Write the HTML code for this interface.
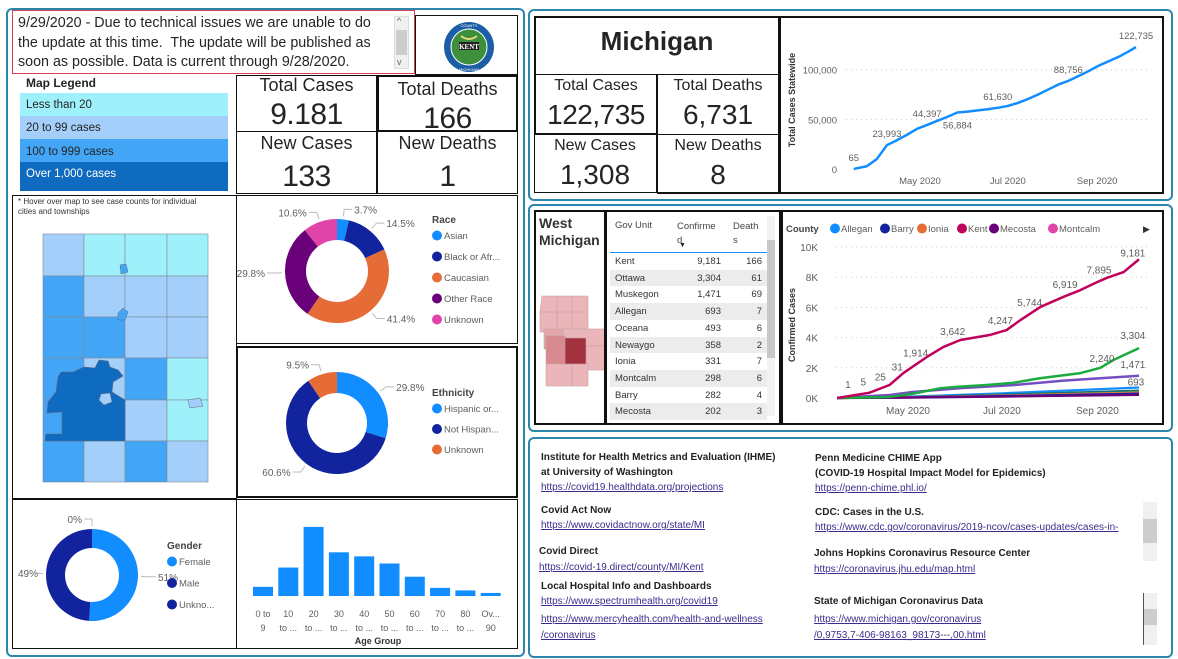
<!DOCTYPE html>
<html><head><meta charset="utf-8">
<style>
*{box-sizing:border-box;margin:0;padding:0}
body{width:1178px;height:659px;overflow:hidden;background:#fff;font-family:"Liberation Sans",sans-serif;color:#252423;position:relative}
.abs{position:absolute}
.panel{position:absolute;border:2px solid #2a86ad;border-radius:6px}
.box{position:absolute;border:1px solid #111}
.t{position:absolute;white-space:nowrap}
.lk{color:#3a2c8c;text-decoration:underline;font-size:10px}
.hd{font-weight:bold;font-size:10px;color:#222}
.num{font-size:30px;letter-spacing:-0.5px}
</style></head><body>
<div class="panel" style="left:6px;top:8px;width:519px;height:649px"></div>
<div class="panel" style="left:528px;top:9px;width:645px;height:192px"></div>
<div class="panel" style="left:528px;top:204px;width:645px;height:228px"></div>
<div class="panel" style="left:528px;top:437px;width:645px;height:221px"></div>

<!-- notice -->
<div class="abs" style="left:12px;top:10px;width:403px;height:64px;border:1px solid #d9414f;overflow:hidden">
<div style="position:absolute;left:5px;top:3px;width:372px;font-size:14.3px;line-height:19.5px;color:#252423">9/29/2020 - Due to technical issues we are unable to do the update at this time.&nbsp; The update will be published as soon as possible. Data is current through 9/28/2020.</div>
<div style="position:absolute;left:381px;top:5px;width:15px;height:53px;background:#f0f0f0;border:1px solid #ddd"><div style="position:absolute;left:1px;top:13px;width:11px;height:25px;background:#cdcdcd"></div><div class="t" style="left:2px;top:-1px;font-size:9px;color:#666">^</div><div class="t" style="left:2px;top:40px;font-size:9px;color:#666">v</div></div>
</div>
<div class="box" style="left:415px;top:15px;width:103px;height:60px"></div>
<svg class="abs" style="left:440px;top:18px" width="60" height="58">
<circle cx="29" cy="29" r="25" fill="#1b5ea6"/><circle cx="29" cy="29" r="18" fill="#3e8f3b" stroke="#fff" stroke-width="1"/>
<rect x="19" y="24" width="20" height="8" fill="#222"/><text x="29" y="31" font-size="7" font-weight="bold" fill="#fff" text-anchor="middle" font-family="Liberation Serif">KENT</text>
<path d="M21 18 Q29 24 37 18" stroke="#e9d97a" stroke-width="2" fill="none"/>
<text x="29" y="9" font-size="4" fill="#fff" text-anchor="middle">COUNTY</text><text x="29" y="53" font-size="4" fill="#fff" text-anchor="middle">MICHIGAN</text>
</svg>

<!-- map legend -->
<div class="t" style="left:26px;top:76px;font-size:12px;font-weight:bold">Map Legend</div>
<div class="abs" style="left:20px;top:93px;width:208px;height:23px;background:#9ef1fb"><span class="t" style="left:6px;top:6px;font-size:11.5px">Less than 20</span></div>
<div class="abs" style="left:20px;top:116px;width:208px;height:23px;background:#a3cffa"><span class="t" style="left:6px;top:6px;font-size:11.5px">20 to 99 cases</span></div>
<div class="abs" style="left:20px;top:139px;width:208px;height:23px;background:#42a5f5"><span class="t" style="left:6px;top:7px;font-size:11.5px">100 to 999 cases</span></div>
<div class="abs" style="left:20px;top:162px;width:208px;height:29px;background:#0f6bbf"><span class="t" style="left:6px;top:6px;font-size:11.5px;color:#fff">Over 1,000 cases</span></div>

<!-- kent stats -->
<div class="box" style="left:236px;top:75px;width:141px;height:57px"><div class="t" style="width:139px;text-align:center;top:-1px;font-size:18px">Total Cases</div><div class="t num" style="width:139px;text-align:center;top:22px">9.181</div></div>
<div class="box" style="left:377px;top:75px;width:141px;height:57px;border-width:2px"><div class="t" style="width:137px;text-align:center;top:2px;font-size:18px">Total Deaths</div><div class="t num" style="width:137px;text-align:center;top:25px">166</div></div>
<div class="box" style="left:236px;top:131px;width:141px;height:63px"><div class="t" style="width:139px;text-align:center;top:1px;font-size:18px">New Cases</div><div class="t num" style="width:139px;text-align:center;top:28px">133</div></div>
<div class="box" style="left:377px;top:131px;width:141px;height:63px"><div class="t" style="width:139px;text-align:center;top:1px;font-size:18px">New Deaths</div><div class="t num" style="width:139px;text-align:center;top:28px">1</div></div>

<!-- map -->
<div class="box" style="left:12px;top:195px;width:225px;height:304px"></div>
<div class="t" style="left:18px;top:197px;font-size:8px;line-height:10px;color:#333">* Hover over map to see case counts for individual<br>cities and townships</div>
<svg class="abs" id="mapsvg" style="left:0;top:0" width="240" height="500"></svg>

<!-- race -->
<div class="box" style="left:236px;top:195px;width:282px;height:149px"></div>
<svg class="abs" id="race" style="left:236px;top:195px" width="282" height="149"></svg>
<div class="box" style="left:236px;top:346px;width:282px;height:152px;border-width:2px"></div>
<svg class="abs" id="eth" style="left:236px;top:346px" width="282" height="152"></svg>
<div class="box" style="left:12px;top:499px;width:225px;height:150px"></div>
<svg class="abs" id="gen" style="left:12px;top:499px" width="225" height="150"></svg>
<div class="box" style="left:236px;top:499px;width:282px;height:150px"></div>
<svg class="abs" id="age" style="left:236px;top:499px" width="282" height="150"></svg>

<!-- Michigan -->
<div class="box" style="left:534px;top:16px;width:246px;height:59px;border-width:2px 2px 1px 2px"><div class="t" style="width:242px;text-align:center;top:8px;font-size:26px;font-weight:bold">Michigan</div></div>
<div class="box" style="left:534px;top:74px;width:124px;height:61px;border-width:1px 2px 2px 2px"><div class="t" style="width:120px;text-align:center;top:2px;font-size:16px">Total Cases</div><div class="t" style="width:120px;text-align:center;top:24px;font-size:28px;letter-spacing:-0.5px">122,735</div></div>
<div class="box" style="left:657px;top:74px;width:123px;height:61px;border-width:1px 2px 1px 1px"><div class="t" style="width:120px;text-align:center;top:2px;font-size:16px">Total Deaths</div><div class="t" style="width:120px;text-align:center;top:24px;font-size:28px">6,731</div></div>
<div class="box" style="left:534px;top:134px;width:124px;height:59px;border-width:1px 2px 1px 1px"><div class="t" style="width:120px;text-align:center;top:2px;font-size:16px">New Cases</div><div class="t" style="width:120px;text-align:center;top:24px;font-size:28px">1,308</div></div>
<div class="box" style="left:657px;top:134px;width:123px;height:60px;border-width:1px 2px 2px 1px"><div class="t" style="width:120px;text-align:center;top:2px;font-size:16px">New Deaths</div><div class="t" style="width:120px;text-align:center;top:24px;font-size:28px">8</div></div>
<div class="box" style="left:779px;top:16px;width:385px;height:178px;border-width:2px"></div>
<svg class="abs" id="mi" style="left:0;top:0" width="1178" height="200"></svg>

<!-- West Michigan -->
<div class="box" style="left:534px;top:210px;width:72px;height:215px;border-width:2px"><div class="t" style="left:3px;top:3px;font-size:14px;line-height:17px;font-weight:bold;color:#333">West<br>Michigan</div></div>
<svg class="abs" style="left:536px;top:292px" width="68" height="96">
<g stroke="#c9a0a4" stroke-width="0.6">
<path d="M6 4 L52 4 L52 37 L6 37 L4 20 Z" fill="#eab6ba"/>
<rect x="4" y="20" width="17" height="20" fill="#eab6ba"/>
<rect x="8" y="37" width="20" height="20" fill="#e0a6aa"/>
<rect x="10" y="44" width="20" height="28" fill="#d88a90"/>
<rect x="29" y="37" width="40" height="17" fill="#eab6ba"/>
<rect x="50" y="54" width="19" height="24" fill="#eab6ba"/>
<rect x="10" y="72" width="26" height="22" fill="#eab6ba"/>
<rect x="36" y="72" width="16" height="22" fill="#eab6ba"/>
<rect x="29" y="46" width="21" height="26" fill="#a3323f"/>
<line x1="21" y1="4" x2="21" y2="37"/><line x1="36" y1="4" x2="36" y2="37"/><line x1="6" y1="20" x2="52" y2="20"/>
</g></svg>
<div class="box" style="left:605px;top:210px;width:176px;height:215px;border-width:2px"></div>
<div id="table" class="abs" style="left:610px;top:212px;width:158px;height:210px"></div>
<div class="abs" style="left:767px;top:216px;width:8px;height:200px;background:#f2f2f2"><div style="position:absolute;left:0;top:24px;width:8px;height:118px;background:#c8c8c8"></div></div>
<div class="box" style="left:781px;top:210px;width:383px;height:215px;border-width:2px"></div>
<svg class="abs" id="cty" style="left:0;top:0" width="1178" height="432"></svg>

<!-- Resources -->
<div class="t hd" style="left:541px;top:450px;line-height:15px">Institute for Health Metrics and Evaluation (IHME)<br>at University of Washington</div>
<div class="t lk" style="left:541px;top:482px">https://covid19.healthdata.org/projections</div>
<div class="t hd" style="left:541px;top:505px">Covid Act Now</div>
<div class="t lk" style="left:541px;top:520px">https://www.covidactnow.org/state/MI</div>
<div class="t hd" style="left:539px;top:546px">Covid Direct</div>
<div class="t lk" style="left:539px;top:562px">https://covid-19.direct/county/MI/Kent</div>
<div class="t hd" style="left:541px;top:581px">Local Hospital Info and Dashboards</div>
<div class="t lk" style="left:541px;top:596px">https://www.spectrumhealth.org/covid19</div>
<div class="t lk" style="left:541px;top:612px;line-height:16px">https://www.mercyhealth.com/health-and-wellness<br>/coronavirus</div>
<div class="t hd" style="left:815px;top:451px;line-height:15px">Penn Medicine CHIME App<br>(COVID-19 Hospital Impact Model for Epidemics)</div>
<div class="t lk" style="left:815px;top:483px">https://penn-chime.phl.io/</div>
<div class="t hd" style="left:815px;top:507px">CDC: Cases in the U.S.</div>
<div class="t lk" style="left:815px;top:522px">https://www.cdc.gov/coronavirus/2019-ncov/cases-updates/cases-in-</div>
<div class="t hd" style="left:814px;top:548px">Johns Hopkins Coronavirus Resource Center</div>
<div class="t lk" style="left:814px;top:564px">https://coronavirus.jhu.edu/map.html</div>
<div class="t hd" style="left:814px;top:596px">State of Michigan Coronavirus Data</div>
<div class="t lk" style="left:814px;top:612px;line-height:16px">https://www.michigan.gov/coronavirus<br>/0,9753,7-406-98163_98173---,00.html</div>
<div class="abs" style="left:1143px;top:502px;width:14px;height:59px;background:#f0f0f0"><div style="position:absolute;left:0;top:17px;width:14px;height:24px;background:#cdcdcd"></div></div>
<div class="abs" style="left:1143px;top:593px;width:14px;height:52px;background:#f0f0f0;border-left:1px solid #555"><div style="position:absolute;left:0;top:16px;width:13px;height:16px;background:#cdcdcd"></div></div>

<script>
var NS='http://www.w3.org/2000/svg';
function mk(tag,attrs,parent){var e=document.createElementNS(NS,tag);for(var k in attrs)e.setAttribute(k,attrs[k]);parent.appendChild(e);return e;}
function tx(parent,x,y,s,size,fill,anchor,weight){var e=mk('text',{x:x,y:y,'font-size':size,fill:fill||'#605e5c','text-anchor':anchor||'start','font-family':'Liberation Sans, sans-serif','font-weight':weight||'normal'},parent);e.textContent=s;return e;}

/* ---------- map ---------- */
var mapColors=['#a3cffa','#9ef1fb','#9ef1fb','#9ef1fb','#42a5f5','#a3cffa','#a3cffa','#a3cffa','#42a5f5','#42a5f5','#a3cffa','#a3cffa','#42a5f5','#a3cffa','#42a5f5','#9ef1fb','#42a5f5','#0f6bbf','#a3cffa','#9ef1fb','#42a5f5','#a3cffa','#42a5f5','#a3cffa'];
(function(){var s=document.getElementById('mapsvg');var xs=[43,84,125,167,208],ys=[234,276,317,358,400,441,482];
for(var i=0;i<24;i++){var r=Math.floor(i/4),c=i%4;var el=mk('rect',{x:xs[c],y:ys[r],width:xs[c+1]-xs[c],height:ys[r+1]-ys[r],fill:mapColors[i],stroke:'#7d8a99','stroke-width':0.6},s);

}
var p=mk('path',{d:'M99 360 L108 361 L110 367 L118 370 L123 376 L113 382 L112 392 L125 400 L125 441 L45 441 L46 434 L62 434 L62 412 L47 413 L48 402 L56 392 L58 377 L61 372 L73 372 L84 367 L95 368 Z',fill:'#0f6bbf',stroke:'#667','stroke-width':0.6},s);


var h=mk('path',{d:'M101 394 L110 393 L112 402 L104 405 L99 400 Z',fill:'#a3cffa',stroke:'#667','stroke-width':0.5},s);


var h2=mk('path',{d:'M120 265 L126 264 L128 272 L121 274 Z',fill:'#42a5f5',stroke:'#667','stroke-width':0.5},s);


var h3=mk('path',{d:'M118 313 L123 308 L128 312 L125 320 L118 320 Z',fill:'#42a5f5',stroke:'#667','stroke-width':0.5},s);


var h4=mk('path',{d:'M188 400 L200 398 L203 406 L190 408 Z',fill:'#a3cffa',stroke:'#667','stroke-width':0.5},s);


})();

/* ---------- donuts ---------- */
var raceCats=['Asian','Black or Afr...','Caucasian','Other Race','Unknown'];
var raceVals=[3.7,14.5,41.4,29.8,10.6];
var raceColors=['#118dff','#12239e','#e66c37','#6b007b','#e044a7'];
var ethCats=['Hispanic or...','Not Hispan...','Unknown'];
var ethVals=[29.8,60.6,9.5];
var ethColors=['#118dff','#12239e','#e66c37'];
var genCats=['Female','Male','Unkno...'];
var genVals=[51,49,0];
var genColors=['#118dff','#12239e','#12239e'];
function donut(svg,cx,cy,R,r,vals,colors,cats,title,lx,ly,step,fmt,name){
 var tot=vals.reduce(function(a,b){return a+b},0);var a0=0;
 for(var i=0;i<vals.length;i++){var f=vals[i]/tot;var a1=a0+f*2*Math.PI;
  if(f>0){var la=(a1-a0)>Math.PI?1:0;function P(rad,a){return [cx+rad*Math.sin(a),cy-rad*Math.cos(a)];}
  var p1=P(R,a0),p2=P(R,a1),p3=P(r,a1),p4=P(r,a0);
  var d='M'+p1+' A'+R+' '+R+' 0 '+la+' 1 '+p2+' L'+p3+' A'+r+' '+r+' 0 '+la+' 0 '+p4+' Z';
  var seg=mk('path',{d:d,fill:colors[i]},svg);
  
  }
  var am=(a0+a1)/2;var e1=[cx+(R+3)*Math.sin(am),cy-(R+3)*Math.cos(am)],e2=[cx+(R+10)*Math.sin(am),cy-(R+10)*Math.cos(am)];
  var right=Math.sin(am)>=0;var e3=[e2[0]+(right?8:-8),e2[1]];
  if(!right&&e3[0]<28)e3[0]=28;
  mk('polyline',{points:e1+' '+e2+' '+e3,fill:'none',stroke:'#bbb','stroke-width':1},svg);
  var lb=tx(svg,e3[0]+(right?2:-2),e3[1]+4,fmt(vals[i]),10,'#605e5c',right?'start':'end');
  
  
  a0=a1;}
 var tt=tx(svg,lx,ly,title,10,'#444','start','bold');
 
 
 for(var j=0;j<cats.length;j++){var y=ly+16+j*step;mk('circle',{cx:lx+5,cy:y-3.5,r:5,fill:colors[j]},svg);
  var le=tx(svg,lx+12,y,cats[j],9.5,'#605e5c');
  
  }
}
donut(document.getElementById('race'),101,76,52,31,raceVals,raceColors,raceCats,'Race',196,28,21,function(v){return v.toFixed(1)+'%'},'race');
donut(document.getElementById('eth'),101,77,51,30,ethVals,ethColors,ethCats,'Ethnicity',196,50,20.5,function(v){return v.toFixed(1)+'%'},'ethnicity');
donut(document.getElementById('gen'),80,76,46,27,genVals,genColors,genCats,'Gender',155,50,21.5,function(v){return v+'%'},'gender');

/* ---------- age bars ---------- */
var ageCats1=['0 to','10','20','30','40','50','60','70','80','Ov...'];
var ageCats2=['9','to ...','to ...','to ...','to ...','to ...','to ...','to ...','to ...','90'];
var ageVals=[325,1010,2453,1551,1407,1154,685,289,198,108];
(function(){var s=document.getElementById('age');var base=97,maxH=69,maxV=2450;
 function y(v){return base-v/maxV*maxH;}
 for(var i=0;i<ageVals.length;i++){var x=17+i*25.3;
  var b=mk('rect',{x:x,y:y(ageVals[i]),width:20,height:base-y(ageVals[i]),fill:'#118dff'},s);
  
  
  var t1=tx(s,x+10,118,ageCats1[i],9,'#605e5c','middle');
  
  
  var t2=tx(s,x+10,132,ageCats2[i],9,'#605e5c','middle');
  
  }
 var at=tx(s,142,145,'Age Group',9,'#333','middle','bold');
 
 
})();

/* ---------- statewide line ---------- */
var miDays=[-46,-37,-30,-23,-16,-9,-2,5,12,19,26,33,40,47,54,61,68,75,82,89,96,103,110,117,124,131,138,145,150];
var miVals=[65,2800,10000,23993,29000,34500,40500,44397,48500,52500,56884,57800,59000,60200,61630,63500,66500,70500,75000,80000,85000,88756,93500,98500,104000,108500,113000,118500,122735];
var miLabelIdx=[0,3,7,10,14,21,28];
var miLabelBelow=[false,false,false,true,false,false,false];
var miTicks=[0,50000,100000];
var miTickLabels=['0','50,000','100,000'];
var miMonthDays=[0,61,123];
var miMonthLabels=['May 2020','Jul 2020','Sep 2020'];
(function(){var s=document.getElementById('mi');
 function X(d){return 920+d*1.44;} function Y(v){return 169-v*0.000993;}
 for(var i=0;i<miTicks.length;i++){if(i>0)mk('line',{x1:846,x2:1148,y1:Y(miTicks[i]),y2:Y(miTicks[i]),stroke:'#c8c8c8','stroke-dasharray':'1,4'},s);
  var t=tx(s,837,Y(miTicks[i])+4,miTickLabels[i],9.5,'#605e5c','end');
  
  }
 for(var j=0;j<miMonthDays.length;j++){var m=tx(s,X(miMonthDays[j]),184,miMonthLabels[j],9.5,'#605e5c','middle');
  
  }
 var yt=tx(s,0,0,'Total Cases Statewide',9,'#333','middle','bold');yt.setAttribute('transform','translate(795,100) rotate(-90)');
 
 
 var pts=miDays.map(function(d,i){return X(d)+','+Y(miVals[i]);}).join(' ');
 var ln=mk('polyline',{points:pts,fill:'none',stroke:'#118dff','stroke-width':2.5,'stroke-linejoin':'round'},s);
 
 
 miLabelIdx.forEach(function(k,n){var l=tx(s,X(miDays[k]),Y(miVals[k])+(miLabelBelow[n]?16:-8),miVals[k].toLocaleString('en-US'),9.5,'#605e5c','middle');
  
  });
})();

/* ---------- table ---------- */
var tblUnits=['Kent','Ottawa','Muskegon','Allegan','Oceana','Newaygo','Ionia','Montcalm','Barry','Mecosta'];
var tblConfirmed=[9181,3304,1471,693,493,358,331,298,282,202];
var tblDeaths=[166,61,69,7,6,2,7,6,4,3];
(function(){var t=document.getElementById('table');
 var h='<div class="t" style="left:5px;top:8px;font-size:9.5px;color:#444">Gov Unit</div><div class="t" style="left:67px;top:8px;font-size:9.5px;color:#444;line-height:14px">Confirme<br>d</div><div class="t" style="left:69px;top:30px;font-size:7px">&#9660;</div><div class="t" style="left:123px;top:8px;font-size:9.5px;color:#444;line-height:14px">Death<br>s</div><div style="position:absolute;left:0;top:40px;width:158px;height:1px;background:#118dff"></div>';
 t.innerHTML=h;
 for(var i=0;i<tblUnits.length;i++){var r=document.createElement('div');r.className='abs';
  r.style.cssText='left:0;top:'+(41+i*16.7)+'px;width:157px;height:16.7px;font-size:9.5px;color:#333;background:'+(i%2?'#ececec':'#fff');
  
  
  r.innerHTML='<span class="t" style="left:5px;top:3px">'+tblUnits[i]+'</span><span class="t" style="right:46px;top:3px">'+tblConfirmed[i].toLocaleString('en-US')+'</span><span class="t" style="right:5px;top:3px">'+tblDeaths[i]+'</span>';
  t.appendChild(r);}
})();

/* ---------- county line chart ---------- */
var legCounties=['Allegan','Barry','Ionia','Kent','Mecosta','Montcalm'];
var legColors=['#118dff','#12239e','#e66c37','#c0005a','#6b007b','#e044a7'];
var kentDays=[-46,-25,-12,-3,12,23,34,53,64,73,86,101,112,123,129,140,150];
var kentVals=[0,350,860,1650,2700,3380,3840,4170,4500,5160,6030,6700,7150,7680,7950,8340,9181];
var kentLabelDays=[-39,-29,-18,-7,5,29,60,79,102,124,146];
var kentLabelTexts=['1','5','25','31','1,914','3,642','4,247','5,744','6,919','7,895','9,181'];
var ottDays=[-46,-12,4,21,34,51,68,85,112,125,133,150];
var ottVals=[0,70,300,650,750,860,1000,1300,1650,2000,2500,3304];
var musDays=[-46,-12,3,34,68,101,150];
var musVals=[0,200,400,650,850,1150,1471];
var smallNames=['Allegan','Oceana','Newaygo','Ionia','Montcalm','Barry','Mecosta'];
var smallColors=['#118dff','#197278','#d9b300','#e66c37','#e044a7','#12239e','#6b007b'];
var smallEnd=[693,493,358,331,298,282,202];
var cTicks=[0,2000,4000,6000,8000,10000];
var cTickLabels=['0K','2K','4K','6K','8K','10K'];
var cMonthDays=[0,61,123];
var cMonthLabels=['May 2020','Jul 2020','Sep 2020'];
(function(){var s=document.getElementById('cty');
 function X(d){return 908+d*1.54;} function Y(v){return 398-v*0.0151;}
 tx(s,786,232,'County',9.5,'#444','start','bold');
 var lxs=[830,880,917,957,989,1048];
 for(var i=0;i<legCounties.length;i++){mk('circle',{cx:lxs[i]+5,cy:228.5,r:5,fill:legColors[i]},s);
  var le=tx(s,lxs[i]+11,232,legCounties[i],9.5,'#605e5c');
  
  }
 var ar=tx(s,1143,232,'\u25B6',9,'#333');
 
 
 for(var k=0;k<cTicks.length;k++){if(k>0)mk('line',{x1:836,x2:1147,y1:Y(cTicks[k]),y2:Y(cTicks[k]),stroke:'#c8c8c8','stroke-dasharray':'1,4'},s);
  var t=tx(s,818,Y(cTicks[k])+4,cTickLabels[k],10,'#605e5c','end');
  
  }
 for(var j=0;j<cMonthDays.length;j++){var m=tx(s,X(cMonthDays[j]),414,cMonthLabels[j],10,'#605e5c','middle');
  
  }
 var yt=tx(s,0,0,'Confirmed Cases',9,'#333','middle','bold');yt.setAttribute('transform','translate(795,325) rotate(-90)');
 
 
 function line(days,vals,color,w){return mk('polyline',{points:days.map(function(d,i){return X(d)+','+Y(vals[i]);}).join(' '),fill:'none',stroke:color,'stroke-width':w,'stroke-linejoin':'round'},s);}
 for(var q=0;q<smallEnd.length;q++){var sl=line([-46,0,61,150],[0,smallEnd[q]*0.12,smallEnd[q]*0.45,smallEnd[q]],smallColors[q],2.2);
  
  }
 var lm=line(musDays,musVals,'#744ec2',2.5);
 
 
 var lo=line(ottDays,ottVals,'#1aab40',2.5);
 
 
 var lk=line(kentDays,kentVals,'#c0005a',2.5);
 
 
 function interp(days,vals,d){for(var i=1;i<days.length;i++){if(d<=days[i]){var f=(d-days[i-1])/(days[i]-days[i-1]);return vals[i-1]+f*(vals[i]-vals[i-1]);}}return vals[vals.length-1];}
 for(var n=0;n<kentLabelDays.length;n++){var lb=tx(s,X(kentLabelDays[n]),Y(interp(kentDays,kentVals,kentLabelDays[n]))-8,kentLabelTexts[n],10,'#605e5c','middle');
  
  }
 var e1=tx(s,X(146),Y(ottVals[ottVals.length-1])-9,ottVals[ottVals.length-1].toLocaleString('en-US'),10,'#605e5c','middle');
 
 
 var e2=tx(s,X(126),Y(ottVals[ottVals.length-3])-6,'2,240',10,'#605e5c','middle');
 
 
 var e3=tx(s,X(146),Y(musVals[musVals.length-1])-8,musVals[musVals.length-1].toLocaleString('en-US'),10,'#605e5c','middle');
 
 
 var e4=tx(s,X(148),Y(smallEnd[0])-2,smallEnd[0].toLocaleString('en-US'),10,'#605e5c','middle');
 
 
})();
</script>
</body></html>
